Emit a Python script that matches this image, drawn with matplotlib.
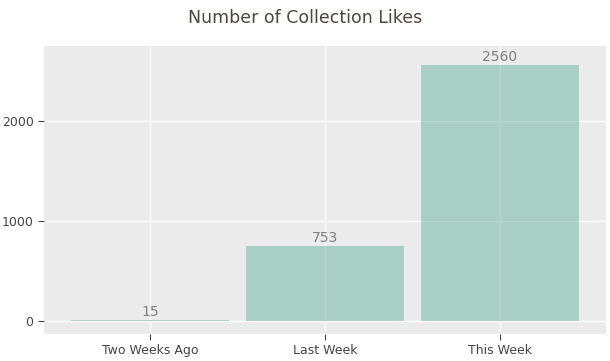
import matplotlib.pyplot as plt

# ------------------ Data ------------------
categories = ["Two Weeks Ago", "Last Week", "This Week"]
likes = [15, 753, 2560]

# ------------------ Plot ------------------
fig = plt.figure(figsize=(6.1, 3.61), dpi=100)
ax = fig.add_axes([44 / 610, 1 - 334 / 361, 562 / 610, 288 / 361])
ax.set_facecolor("#ebebeb")
ax.set_axisbelow(True)
ax.grid(True, color="white", linewidth=1)

x = range(len(categories))
bars = ax.bar(x, likes, width=0.9, color="#69b2a0", alpha=0.5, linewidth=0)
for xi, v in zip(x, likes):
    ax.text(xi, v + 10, str(v), ha="center", va="bottom", fontsize=10, color="#7f7f7f")

ax.set_xlim(-0.606, 2.606)
ax.set_ylim(-130, 2750)
ax.set_xticks(list(x))
ax.set_xticklabels(categories)
ax.set_yticks([0, 1000, 2000])
ax.tick_params(axis="both", colors="#444444", labelsize=9, length=4, width=0.8)
for s in ax.spines.values():
    s.set_visible(False)

fig.text(0.5, 1 - 18 / 361, "Number of Collection Likes", ha="center", va="center",
         fontsize=12.5, color="#4d4540")

fig.savefig("out.png", dpi=100)
